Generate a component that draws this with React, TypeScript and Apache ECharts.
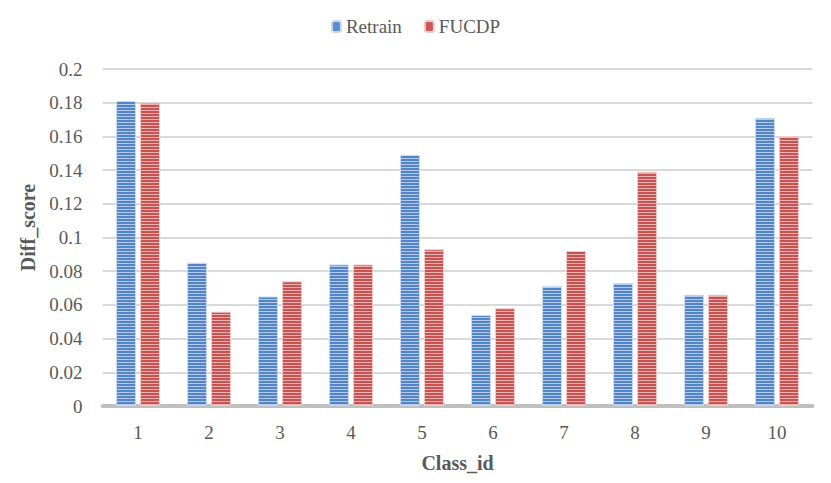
import React, { useEffect, useRef } from "react";
import * as echarts from "echarts";

const categories = ["1", "2", "3", "4", "5", "6", "7", "8", "9", "10"];
const retrain = [0.181, 0.085, 0.065, 0.084, 0.149, 0.054, 0.071, 0.073, 0.066, 0.171];
const fucdp = [0.18, 0.056, 0.074, 0.084, 0.093, 0.058, 0.092, 0.139, 0.066, 0.16];
const seriesNames = ["Retrain", "FUCDP"];

function stripe(dark: string, light: string): string {
  const c = document.createElement("canvas");
  c.width = 4;
  c.height = 3;
  const ctx = c.getContext("2d")!;
  ctx.fillStyle = dark;
  ctx.fillRect(0, 0, 4, 2);
  ctx.fillStyle = light;
  ctx.fillRect(0, 2, 4, 1);
  return c.toDataURL();
}

export default function App() {
  const ref = useRef<HTMLDivElement>(null);
  useEffect(() => {
    const chart = echarts.init(ref.current!, null, { renderer: "svg" });
    const blue = { image: stripe("#5284c6", "#b3cbea"), repeat: "repeat" } as any;
    const red = { image: stripe("#c65352", "#eab3b2"), repeat: "repeat" } as any;
    const font = "Liberation Serif";
    chart.setOption({
      animation: false,
      legend: {
        top: 12,
        left: "center",
        itemWidth: 9,
        itemHeight: 11,
        itemGap: 22,
        textStyle: { fontFamily: font, fontSize: 19, color: "#595959" },
        data: [
          { name: seriesNames[0], itemStyle: { color: "#5b8cd0" } },
          { name: seriesNames[1], itemStyle: { color: "#c85a58" } },
        ],
      },
      grid: { left: 102.5, right: 18.5, top: 69, bottom: 77, containLabel: false },
      xAxis: {
        type: "category",
        data: categories,
        name: "Class_id",
        nameLocation: "middle",
        nameGap: 47,
        nameTextStyle: { fontFamily: font, fontSize: 20, fontWeight: "bold", color: "#595959" },
        axisLine: { lineStyle: { color: "#bfbfbf", width: 4 } },
        axisTick: { show: false },
        axisLabel: { fontFamily: font, fontSize: 19, color: "#595959", margin: 17 },
      },
      yAxis: {
        type: "value",
        min: 0,
        max: 0.2,
        interval: 0.02,
        name: "Diff_score",
        nameLocation: "middle",
        nameGap: 62,
        nameTextStyle: {
          fontFamily: font,
          fontSize: 20,
          fontWeight: "bold",
          color: "#595959",
          padding: [0, 0, 0, 20],
        },
        axisLine: { show: false },
        axisTick: { show: false },
        splitLine: { lineStyle: { color: "#d9d9d9", width: 2 } },
        axisLabel: {
          fontFamily: font,
          fontSize: 19,
          color: "#595959",
          margin: 20,
          formatter: (v: number) => String(parseFloat(v.toFixed(2))),
        },
      },
      series: [
        {
          name: seriesNames[0],
          type: "bar",
          data: retrain,
          barWidth: 20,
          barGap: "20%",
          itemStyle: { color: blue, borderColor: "#c9daf0", borderWidth: 1 },
        },
        {
          name: seriesNames[1],
          type: "bar",
          data: fucdp,
          barWidth: 20,
          itemStyle: { color: red, borderColor: "#f0c9c8", borderWidth: 1 },
        },
      ],
    });
    return () => chart.dispose();
  }, []);
  return <div ref={ref} style={{ width: 831, height: 483, margin: -8 }} />;
}
